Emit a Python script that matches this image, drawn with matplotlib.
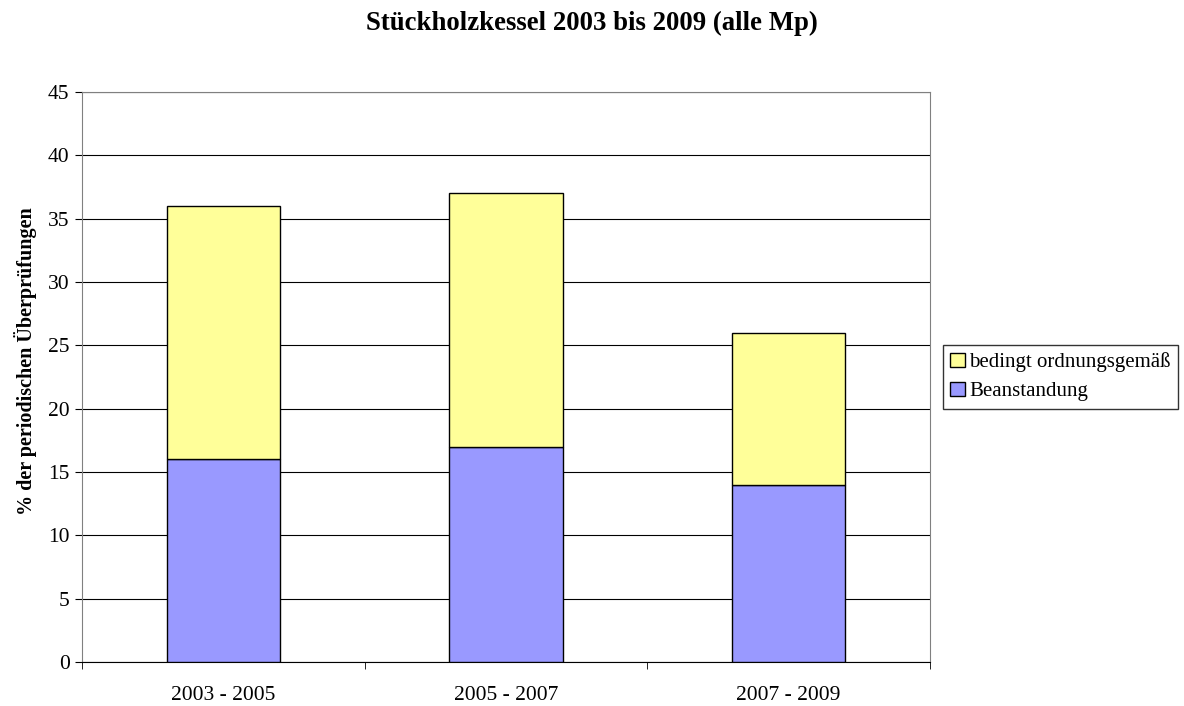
import numpy as np
import matplotlib.pyplot as plt
from matplotlib.ticker import FixedLocator

periods = ['2003 - 2005', '2005 - 2007', '2007 - 2009']
beanstandung = [16, 17, 14]
bedingt = [20, 20, 12]

plt.rcParams['font.family'] = ['Liberation Serif', 'DejaVu Serif']

fig = plt.figure(figsize=(11.84, 7.06), dpi=100)
ax = fig.add_axes([82 / 1184, 44 / 706, 848 / 1184, 570 / 706])

x = np.arange(len(periods))
w = 0.4
ax.bar(x, beanstandung, w, color='#9999FF', edgecolor='black', linewidth=1,
       label='Beanstandung', zorder=3)
ax.bar(x, bedingt, w, bottom=beanstandung, color='#FFFF99', edgecolor='black',
       linewidth=1, label='bedingt ordnungsgemäß', zorder=3)

ax.set_xlim(-0.5, 2.5)
ax.set_ylim(0, 45)
ax.set_yticks(np.arange(0, 46, 5))
ax.yaxis.grid(True, color='black', linewidth=0.8, zorder=0)

ax.set_xticks(x)
ax.set_xticklabels(periods, fontsize=15.5)
ax.xaxis.set_minor_locator(FixedLocator([-0.5, 0.5, 1.5, 2.5]))
ax.tick_params(axis='x', which='major', length=0, pad=17)
ax.tick_params(axis='x', which='minor', length=5, direction='out')
ax.tick_params(axis='y', length=5, direction='out', labelsize=15.5, pad=4)

for side in ['left', 'top', 'right']:
    ax.spines[side].set_color('#808080')
ax.spines['bottom'].set_color('black')

ax.set_ylabel('% der periodischen Überprüfungen', fontsize=14.5, fontweight='bold')
ax.yaxis.set_label_coords((37 - 82) / 848, 0.528)
fig.suptitle('Stückholzkessel 2003 bis 2009 (alle Mp)', fontsize=19.3,
             fontweight='bold', y=0.985)

handles, labels = ax.get_legend_handles_labels()
leg = ax.legend(handles[::-1], labels[::-1], loc='center left',
                bbox_to_anchor=(943 / 1184, (706 - 377) / 706),
                bbox_transform=fig.transFigure, fontsize=15, frameon=True,
                fancybox=False, edgecolor='black', handlelength=0.7,
                handleheight=0.7, handletextpad=0.2, borderpad=0.35,
                labelspacing=0.45, borderaxespad=0)
leg.get_frame().set_linewidth(1)

fig.savefig('out.png', dpi=100)
